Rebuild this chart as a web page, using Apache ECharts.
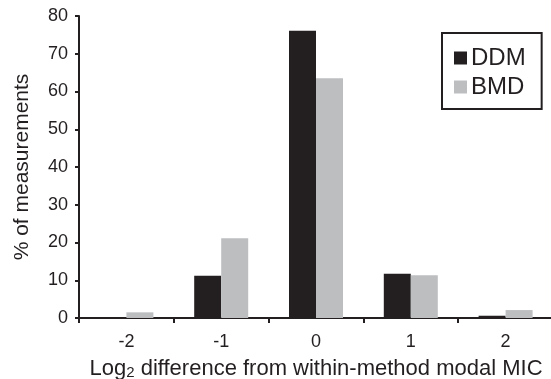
<!DOCTYPE html>
<html><head><meta charset="utf-8">
<script src="https://cdn.jsdelivr.net/npm/echarts@6/dist/echarts.min.js"></script>
<style>html,body{margin:0;padding:0;background:#fff}#c{width:551px;height:379px}</style>
</head><body><div id="c"></div>
<script>
const categories = ['-2', '-1', '0', '1', '2'];
const ddm = [0, 11.2, 76.1, 11.7, 0.6];
const bmd = [1.5, 21.1, 63.5, 11.3, 2.1];
const yTicks = [0, 10, 20, 30, 40, 50, 60, 70, 80];

const ink = '#231f20';
const font = 'Liberation Sans, Arial, sans-serif';
const chart = echarts.init(document.getElementById('c'));
chart.setOption({
  animation: false,
  textStyle: { fontFamily: font, color: ink },
  grid: { left: 79, top: 16, bottom: 61, width: 474, containLabel: false, outerBoundsMode: 'none' },
  legend: {
    orient: 'vertical', left: 442, top: 33,
    padding: [12, 16, 9, 12],
    borderColor: ink, borderWidth: 2, borderRadius: 0,
    itemWidth: 13, itemHeight: 13, itemGap: 3,
    icon: 'rect',
    textStyle: { fontSize: 24, color: ink, lineHeight: 26, padding: [0, 0, 0, -1] },
    data: ['DDM', 'BMD']
  },
  xAxis: {
    type: 'category', data: categories,
    axisLine: { lineStyle: { color: ink, width: 2 } },
    axisTick: { show: true, length: 5, lineStyle: { color: ink, width: 2 }, alignWithLabel: false },
    axisLabel: { fontSize: 18, color: ink, margin: 15 },
    name: '{a|Log}{s|2}{a| difference from within-method modal MIC}',
    nameLocation: 'middle', nameGap: 40,
    nameTextStyle: {
      rich: {
        a: { fontSize: 22, color: ink, fontFamily: font },
        s: { fontSize: 15, color: ink, fontFamily: font, padding: [7, 0, 0, 0] }
      }
    }
  },
  yAxis: {
    type: 'value', min: yTicks[0], max: yTicks[yTicks.length - 1], interval: 10,
    splitLine: { show: false },
    axisLine: { show: true, lineStyle: { color: ink, width: 2 } },
    axisTick: { show: true, length: 4, lineStyle: { color: ink, width: 2 } },
    axisLabel: { fontSize: 18, color: ink, margin: 11 },
    name: '% of measurements', nameLocation: 'middle', nameGap: 46,
    nameTextStyle: { fontSize: 21, color: ink }
  },
  series: [
    { name: 'DDM', type: 'bar', data: ddm, barWidth: 27, barGap: '0%', itemStyle: { color: ink } },
    { name: 'BMD', type: 'bar', data: bmd, barWidth: 27, itemStyle: { color: '#bcbec0' } }
  ]
});
</script></body></html>
